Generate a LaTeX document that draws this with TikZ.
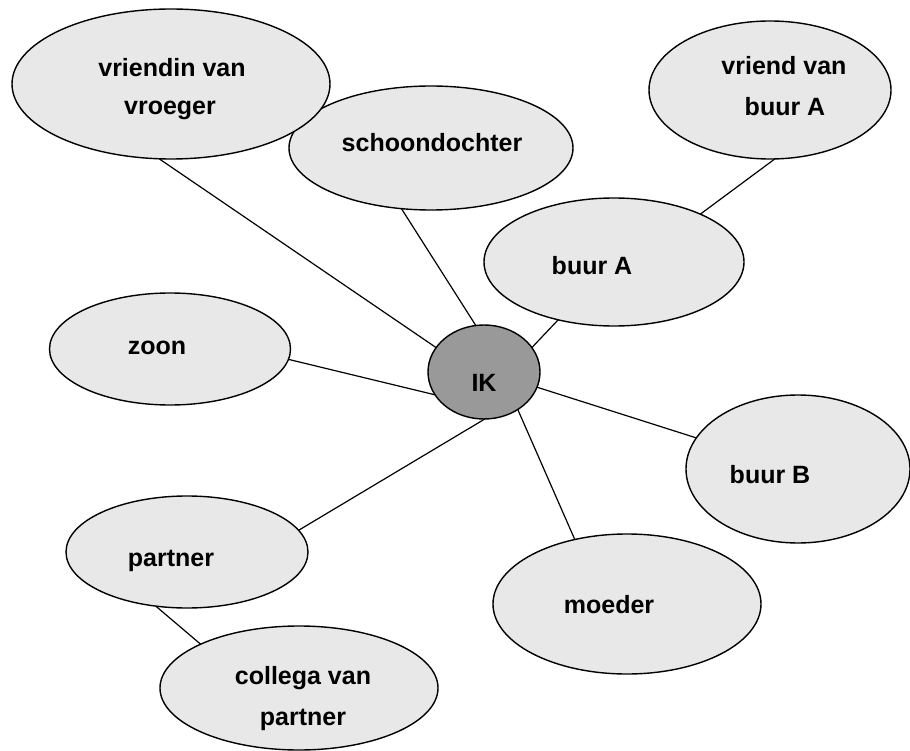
\documentclass[tikz,border=0pt]{standalone}
\usepackage{fontspec}
\setmainfont{Liberation Sans}
\usetikzlibrary{shapes.geometric}
\definecolor{bubble}{HTML}{E8E8E8}
\definecolor{core}{HTML}{999999}
\tikzset{
 bub/.style={ellipse, draw=black, line width=1.4pt, fill=bubble, inner sep=0pt, outer sep=0pt},
 lbl/.style={anchor=base, font=\fontsize{25}{30}\selectfont\bfseries, inner sep=0pt},
 link/.style={line width=1.2pt, draw=black},
}
\begin{document}
\begin{tikzpicture}[x=1pt,y=-1pt]
\useasboundingbox (0,0) rectangle (910,751);
% bubbles
\node[bub, minimum width=284pt, minimum height=124pt] (schoon) at (431,148) {};
\node[bub, minimum width=318pt, minimum height=150pt] (vriendin) at (171,84) {};
\node[bub, minimum width=242pt, minimum height=138pt] (vriend) at (770,90) {};
\node[bub, minimum width=260pt, minimum height=128pt] (buura) at (614,262) {};
\node[bub, minimum width=241pt, minimum height=112pt] (zoon) at (170,349) {};
\node[bub, fill=core, minimum width=112pt, minimum height=94pt] (ik) at (484,372) {};
\node[bub, minimum width=224pt, minimum height=148pt] (buurb) at (798,469) {};
\node[bub, minimum width=242pt, minimum height=112pt] (partner) at (187,552) {};
\node[bub, minimum width=268pt, minimum height=140pt] (moeder) at (627,604) {};
\node[bub, minimum width=278pt, minimum height=124pt] (collega) at (299,688) {};
% labels
\node[lbl] (t-vriendin1) at (172,77) {vriendin van};
\node[lbl] (t-vriendin2) at (170,115) {vroeger};
\node[lbl] (t-schoon) at (432,152) {schoondochter};
\node[lbl] (t-vriend1) at (784,75) {vriend van};
\node[lbl] (t-vriend2) at (785,116) {buur A};
\node[lbl] (t-buura) at (592,275) {buur A};
\node[lbl] (t-ik) at (484,391) {IK};
\node[lbl] (t-zoon) at (157,354) {zoon};
\node[lbl] (t-buurb) at (770,483) {buur B};
\node[lbl] (t-partner) at (171,566) {partner};
\node[lbl] (t-moeder) at (609,613) {moeder};
\node[lbl] (t-collega1) at (303,684) {collega van};
\node[lbl] (t-collega2) at (303,725) {partner};
% connectors
\draw[link] (vriendin.261.5) -- (ik.153);
\draw[link] (schoon.244.5) -- (ik.100.8);
\draw[link] (buura.226) -- (ik.27.5);
\draw[link] (buura.29.8) -- (vriend.274);
\draw[link] (zoon.355.6) -- (ik.205);
\draw[link] (buurb.163.6) -- (ik.344.5);
\draw[link] (moeder.129.4) -- (ik.312.4);
\draw[link] (partner.11) -- (ik.271);
\draw[link] (partner.240) -- (collega.156);
\end{tikzpicture}
\end{document}
